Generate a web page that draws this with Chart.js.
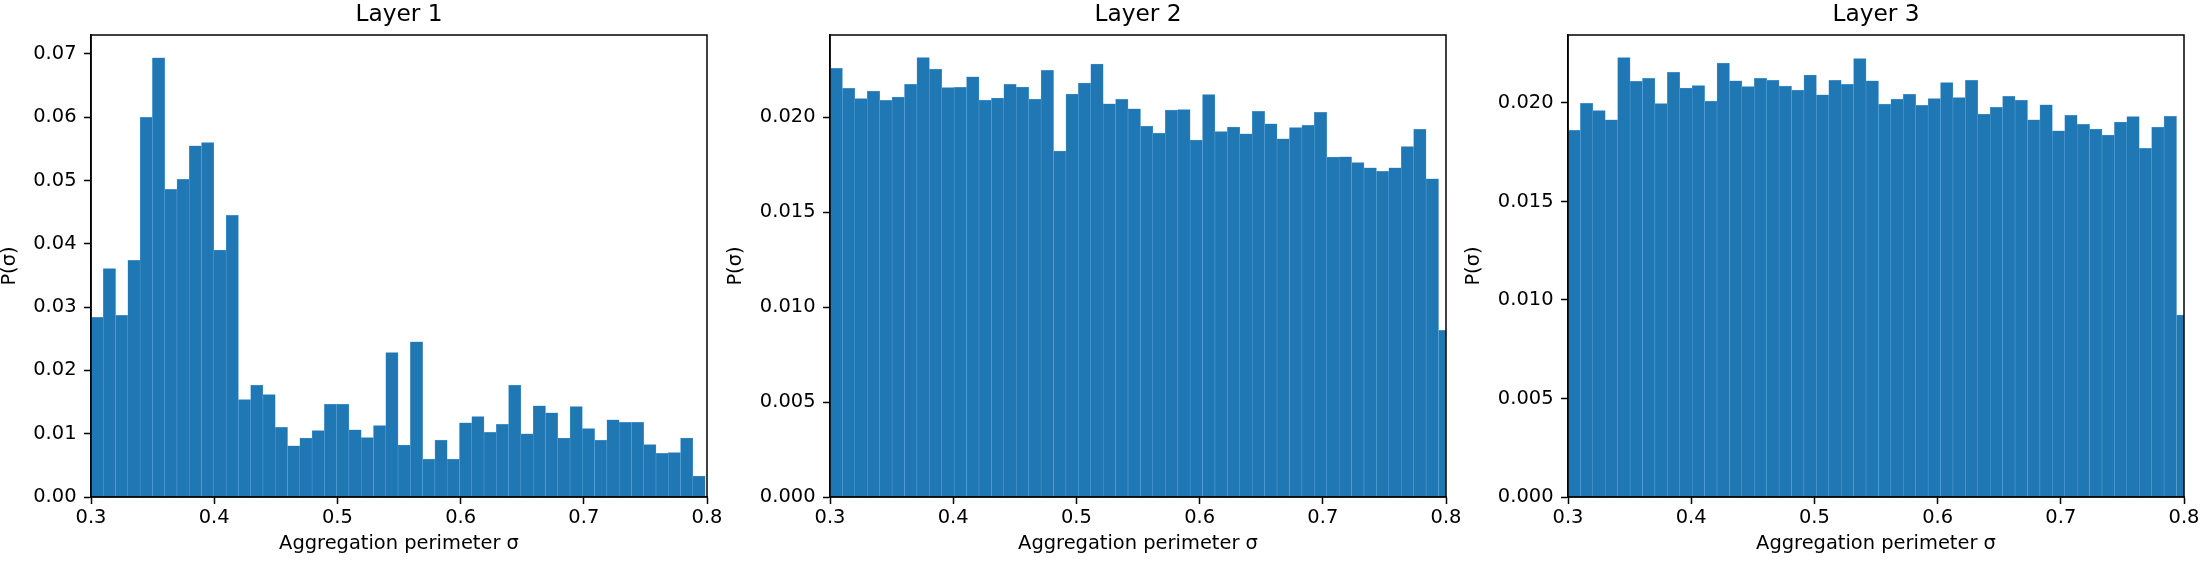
<!DOCTYPE html>
<html><head><meta charset="utf-8">
<script src="https://cdn.jsdelivr.net/npm/chart.js@4.4.0/dist/chart.umd.min.js"></script>
<style>
html,body{margin:0;padding:0;background:#fff;overflow:hidden;width:2203px;height:564px;}
canvas.p{position:absolute;top:0;}
</style></head><body>
<canvas id="c1" class="p" width="727" height="564" style="left:0px"></canvas>
<canvas id="c2" class="p" width="739" height="564" style="left:726px"></canvas>
<canvas id="c3" class="p" width="739" height="564" style="left:1464px"></canvas>
<script>
// ---- data ----
const titles = ['Layer 1', 'Layer 2', 'Layer 3'];
const xLabel = 'Aggregation perimeter σ';
const yLabel = 'P(σ)';
const xTickLabels = ['0.3', '0.4', '0.5', '0.6', '0.7', '0.8'];
const yTickLabels1 = ['0.00', '0.01', '0.02', '0.03', '0.04', '0.05', '0.06', '0.07'];
const yTickLabels23 = ['0.000', '0.005', '0.010', '0.015', '0.020'];
const binStart = [0.3, 0.3, 0.3];
const binWidth = [0.00997, 0.01008, 0.01008];
const yMax = [0.0730, 0.02432, 0.02345];

const layer1 = [0.0284, 0.0361, 0.0287, 0.0374, 0.0600, 0.0694, 0.0486, 0.0502, 0.0555, 0.0560,
                0.0390, 0.0445, 0.0154, 0.0177, 0.0162, 0.0110, 0.0081, 0.0093, 0.0105, 0.0147,
                0.0147, 0.0106, 0.0094, 0.0113, 0.0228, 0.0082, 0.0245, 0.0060, 0.0090, 0.0060,
                0.0117, 0.0127, 0.0102, 0.0115, 0.0177, 0.0100, 0.0144, 0.0133, 0.0093, 0.0143,
                0.0108, 0.0090, 0.0122, 0.0118, 0.0118, 0.0083, 0.0069, 0.0070, 0.0093, 0.0033];
const layer2 = [0.02256, 0.02151, 0.02097, 0.02137, 0.02088, 0.02105, 0.02172, 0.02313, 0.02253, 0.02155,
                0.02157, 0.02212, 0.02090, 0.02100, 0.02172, 0.02158, 0.02095, 0.02246, 0.01821, 0.02121,
                0.02179, 0.02279, 0.02070, 0.02093, 0.02044, 0.01953, 0.01916, 0.02037, 0.02040, 0.01879,
                0.02118, 0.01924, 0.01947, 0.01912, 0.02030, 0.01965, 0.01886, 0.01944, 0.01956, 0.02025,
                0.01789, 0.01791, 0.01761, 0.01733, 0.01714, 0.01733, 0.01844, 0.01935, 0.01675, 0.00878];
const layer3 = [0.01861, 0.01998, 0.01961, 0.01915, 0.02230, 0.02110, 0.02125, 0.01997, 0.02156, 0.02075,
                0.02088, 0.02010, 0.02203, 0.02113, 0.02083, 0.02125, 0.02115, 0.02086, 0.02066, 0.02141,
                0.02041, 0.02115, 0.02095, 0.02225, 0.02113, 0.01995, 0.02020, 0.02044, 0.01988, 0.02022,
                0.02103, 0.02027, 0.02115, 0.01944, 0.01978, 0.02034, 0.02015, 0.01914, 0.01990, 0.01858,
                0.01937, 0.01892, 0.01868, 0.01837, 0.01903, 0.01931, 0.01770, 0.01878, 0.01932, 0.00923];

// ---- drawing ----
const FAMILY = '"DejaVu Sans", sans-serif';
Chart.defaults.font.family = FAMILY;
Chart.defaults.color = '#000';

const frame = {
  id: 'frame',
  afterDraw(chart) {
    const a = chart.chartArea, c = chart.ctx;
    c.save();
    c.strokeStyle = '#000';
    c.lineWidth = 1.5;
    c.strokeRect(a.left, a.top, a.right - a.left, a.bottom - a.top);
    c.restore();
  }
};

function makeChart(id, k, values, yTickLabels, yAxisWidth, rightPad) {
  const points = values.map((v, i) => ({x: binStart[k] + (i + 0.5) * binWidth[k], y: v}));
  return new Chart(document.getElementById(id), {
    type: 'bar',
    data: {
      datasets: [{
        data: points,
        backgroundColor: '#1f77b4',
        borderColor: '#6aa5d6',
        borderWidth: {left: 0.5, right: 0.5, top: 0.5, bottom: 0},
        borderSkipped: false,
        barPercentage: 1.0,
        categoryPercentage: 1.0,
        clip: 0
      }]
    },
    options: {
      responsive: false,
      animation: false,
      devicePixelRatio: 1,
      events: [],
      layout: {padding: {left: 0, right: rightPad, top: 0, bottom: 0}},
      plugins: {
        legend: {display: false},
        tooltip: {enabled: false},
        title: {
          display: true, text: titles[k], fullSize: false, color: '#000',
          font: {family: FAMILY, size: 23.3, weight: 'normal', lineHeight: 1.2},
          padding: {top: 1.2, bottom: 5.84}
        }
      },
      scales: {
        x: {
          type: 'linear', min: 0.3, max: 0.8, offset: false, z: 1,
          afterBuildTicks: s => { s.ticks = xTickLabels.map(t => ({value: parseFloat(t)})); },
          afterFit: s => { s.height = 67; },
          ticks: {
            autoSkip: false, maxRotation: 0, minRotation: 0, padding: 2.3, color: '#000',
            font: {family: FAMILY, size: 19.44, lineHeight: 1.2},
            callback: (v, i) => xTickLabels[i]
          },
          grid: {display: true, drawOnChartArea: false, drawTicks: true, tickLength: 7,
                 tickWidth: 1.5, tickColor: '#000', offset: false},
          border: {display: true, color: '#000', width: 1.5},
          title: {display: true, text: xLabel, color: '#000',
                  font: {family: FAMILY, size: 19.44, lineHeight: 1.2},
                  padding: {top: 0, bottom: 8}}
        },
        y: {
          type: 'linear', min: 0, max: yMax[k], z: 1,
          afterBuildTicks: s => { s.ticks = yTickLabels.map(t => ({value: parseFloat(t)})); },
          afterFit: s => { s.width = yAxisWidth; },
          ticks: {
            padding: 7.5, color: '#000',
            font: {family: FAMILY, size: 19.44, lineHeight: 1.2},
            callback: (v, i) => yTickLabels[i]
          },
          grid: {display: true, drawOnChartArea: false, drawTicks: true, tickLength: 7,
                 tickWidth: 1.5, tickColor: '#000'},
          border: {display: true, color: '#000', width: 1.5},
          title: {display: true, text: yLabel, color: '#000',
                  font: {family: FAMILY, size: 19.44, lineHeight: 1.0},
                  padding: {top: 0, bottom: 0}}
        }
      }
    },
    plugins: [frame]
  });
}

makeChart('c1', 0, layer1, yTickLabels1, 91, 20);
makeChart('c2', 1, layer2, yTickLabels23, 104, 19);
makeChart('c3', 2, layer3, yTickLabels23, 104, 19);
</script>
</body></html>
